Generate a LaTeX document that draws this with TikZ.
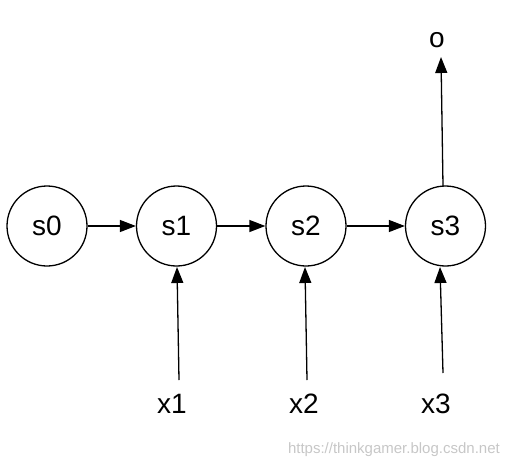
\documentclass[tikz,border=0pt]{standalone}
\usepackage{fontspec}
\setmainfont{Liberation Sans}
\usetikzlibrary{arrows.meta}
\begin{document}
\begin{tikzpicture}[x=1pt,y=-1pt,
  st/.style={draw,circle,line width=1.3pt,minimum size=80pt,inner sep=0pt,font=\fontsize{28}{32}\selectfont},
  lbl/.style={inner sep=0pt,font=\fontsize{28}{32}\selectfont},
  arr/.style={line width=1.3pt,-{Triangle[length=16pt,width=12pt]}}]
\useasboundingbox (0,0) rectangle (510,468);
\node[st] (s0) at (47,226) {s0};
\node[st] (s1) at (176.5,226) {s1};
\node[st] (s2) at (306,226) {s2};
\node[st] (s3) at (445.5,226) {s3};
\node[lbl] (x1) at (172,404) {x1};
\node[lbl] (x2) at (304,404) {x2};
\node[lbl] (x3) at (436,404) {x3};
\node[lbl] (o) at (437,40) {o};
\coordinate (x1s) at (179,380);
\coordinate (x1e) at (177,267);
\coordinate (x2s) at (307,380);
\coordinate (x2e) at (305,267);
\coordinate (x3s) at (443,373);
\coordinate (x3e) at (440,267);
\coordinate (os) at (443,186);
\coordinate (oe) at (441,57);
\draw[arr] (s0) -- (s1);
\draw[arr] (s1) -- (s2);
\draw[arr] (s2) -- (s3);
\draw[arr] (x1s) -- (x1e);
\draw[arr] (x2s) -- (x2e);
\draw[arr] (x3s) -- (x3e);
\draw[arr] (os) -- (oe);
\node[inner sep=0pt,text=black!22,font=\fontsize{15}{17}\selectfont,anchor=east] (wm) at (500,450) {https://thinkgamer.blog.csdn.net};
\end{tikzpicture}
\end{document}
